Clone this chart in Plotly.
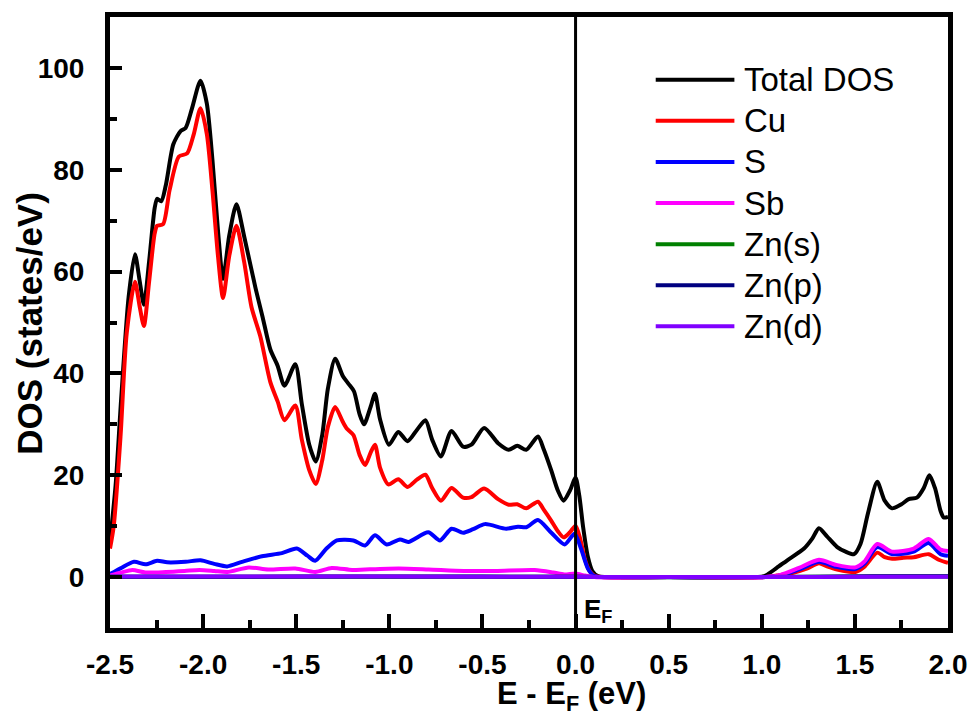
import plotly.graph_objects as go

# ---------------- data ----------------
total_e = [-2.5, -2.47, -2.44, -2.40, -2.366, -2.34, -2.318, -2.29, -2.26, -2.247, -2.225, -2.20, -2.16,
           -2.121, -2.094, -2.06, -2.014, -1.98, -1.95, -1.92, -1.893, -1.86, -1.821, -1.78, -1.72, -1.68,
           -1.639, -1.60, -1.563, -1.505, -1.47, -1.43, -1.395, -1.36, -1.33, -1.291, -1.25, -1.22, -1.19,
           -1.16, -1.136, -1.10, -1.077, -1.05, -1.002, -0.952, -0.902, -0.85, -0.806, -0.77, -0.723, -0.666,
           -0.604, -0.559, -0.491, -0.416, -0.359, -0.313, -0.265, -0.202, -0.17, -0.131, -0.095, -0.064,
           -0.03, 0.0, 0.02, 0.04, 0.066, 0.09, 0.12, 0.16, 0.5, 0.98, 1.02, 1.08, 1.137, 1.227, 1.27,
           1.307, 1.35, 1.405, 1.45, 1.495, 1.53, 1.57, 1.62, 1.66, 1.70, 1.75, 1.789, 1.833, 1.87, 1.90,
           1.93, 1.96, 1.977, 2.0]
total_dos = [7, 18, 35, 55, 63.4, 58, 53.5, 62, 72.5, 74.3, 73.8, 77, 85,
             87.6, 88.2, 92, 97.5, 93, 82, 68, 58.6, 67, 73.2, 67, 57, 51,
             44.7, 41.5, 37.6, 41.8, 34, 26, 22.7, 28, 37, 42.9, 39.5, 38, 36.5,
             32, 30, 33.5, 36, 31, 26, 28.5, 26.7, 29, 30.8, 27, 23.7, 28.7,
             25.6, 26, 29.3, 26.3, 25, 25.8, 25, 27.6, 25, 21, 17, 15,
             17, 19.5, 16, 10, 4, 1.2, 0.2, 0, 0, 0, 0.3, 1.8, 3.3, 5.6, 7.5,
             9.6, 8, 5.9, 5.0, 4.5, 6.5, 12.5, 18.7, 15, 13.5, 14.3, 15.3, 15.6, 17.5, 20,
             17.5, 13, 11.7, 11.8]

cu_e = [-2.5, -2.48, -2.443, -2.41, -2.366, -2.34, -2.318, -2.29, -2.26, -2.247, -2.215, -2.18, -2.13,
        -2.086, -2.05, -2.014, -1.98, -1.95, -1.92, -1.893, -1.86, -1.821, -1.78, -1.74, -1.693, -1.639,
        -1.60, -1.563, -1.505, -1.47, -1.43, -1.395, -1.36, -1.33, -1.291, -1.25, -1.229, -1.193, -1.16,
        -1.13, -1.10, -1.077, -1.05, -1.005, -0.952, -0.902, -0.85, -0.806, -0.77, -0.723, -0.666, -0.604,
        -0.559, -0.491, -0.416, -0.359, -0.313, -0.265, -0.202, -0.17, -0.131, -0.095, -0.064, -0.03, 0.0,
        0.025, 0.05, 0.075, 0.10, 0.14, 0.5, 1.02, 1.08, 1.155, 1.245, 1.307, 1.35, 1.405, 1.503, 1.55,
        1.62, 1.66, 1.70, 1.76, 1.816, 1.896, 1.95, 2.0]
cu_dos = [5.6, 10, 27.9, 48, 58, 53, 49.3, 58, 67.5, 69, 69.3, 76, 82.6,
          83.2, 87, 92.1, 87, 76, 63, 54.8, 63, 69, 62, 53, 47.3, 38.3,
          34.5, 30.8, 33.7, 27, 21, 18.3, 23, 29.5, 33.4, 30.5, 29.2, 27.9, 24,
          22, 24.5, 26, 21.5, 18.2, 19.2, 17.7, 19.2, 20.1, 17.5, 15, 17.5, 15.6,
          15.7, 17.4, 15.3, 14.2, 14.3, 13.5, 14.8, 13.2, 11.1, 9, 7.8, 8.8, 10.1,
          7.5, 3.5, 1.2, 0.3, 0, 0, 0, 0.3, 0.7, 1.7, 2.7, 2.1, 1.5, 1.0, 2.0,
          4.8, 3.9, 3.6, 3.8, 3.9, 4.5, 3.4, 2.8]

s_e = [-2.5, -2.44, -2.371, -2.309, -2.247, -2.193, -2.094, -2.014, -1.94, -1.871, -1.791, -1.684, -1.577,
       -1.497, -1.44, -1.398, -1.34, -1.282, -1.193, -1.13, -1.077, -1.014, -0.943, -0.898, -0.791, -0.728,
       -0.666, -0.604, -0.55, -0.487, -0.372, -0.309, -0.264, -0.202, -0.13, -0.059, -0.005, 0.03, 0.066,
       0.10, 0.13, 0.5, 1.02, 1.1, 1.2, 1.307, 1.40, 1.503, 1.55, 1.62, 1.70, 1.816, 1.896, 1.96, 2.0]
s_dos = [0.6, 1.8, 3.0, 2.5, 3.2, 2.9, 3.0, 3.3, 2.6, 2.1, 3.0, 4.1, 4.7,
         5.6, 4.2, 3.2, 5.5, 7.2, 7.2, 6.2, 8.2, 6.4, 7.4, 6.9, 8.8, 7.2,
         9.5, 8.7, 9.4, 10.4, 9.5, 9.9, 9.8, 11.2, 8.7, 6.4, 8.5, 5.5, 1.7,
         0.2, 0, 0, 0, 0.3, 1.5, 3.0, 2.0, 1.6, 2.6, 5.9, 4.5, 5.0, 6.7, 4.5, 4.2]

sb_e = [-2.5, -2.44, -2.38, -2.31, -2.2, -2.1, -2.02, -1.94, -1.87, -1.755, -1.65, -1.505, -1.398,
        -1.309, -1.2, -1.13, -0.95, -0.79, -0.6, -0.43, -0.22, -0.12, -0.06, 0.0, 0.05, 0.1, 0.5,
        1.02, 1.1, 1.2, 1.307, 1.40, 1.503, 1.55, 1.62, 1.70, 1.816, 1.896, 1.96, 2.0]
sb_dos = [0.3, 0.9, 1.4, 0.9, 1.0, 1.2, 1.4, 1.2, 1.0, 1.9, 1.5, 1.7, 1.0,
          1.8, 1.4, 1.5, 1.7, 1.5, 1.2, 1.2, 1.4, 0.9, 0.5, 0.7, 0.3, 0, 0,
          0, 0.4, 1.8, 3.4, 2.4, 1.9, 3.0, 6.5, 5.0, 5.6, 7.5, 5.4, 5.1]

zns_e = [-2.5, -1.5, -0.5, 0.0, 0.2, 1.0, 1.6, 2.0]
zns_dos = [0.05, 0.08, 0.06, 0.05, 0, 0, 0.1, 0.1]
znp_e = [-2.5, -1.5, -0.5, 0.0, 0.2, 1.0, 1.6, 2.0]
znp_dos = [0.05, 0.1, 0.1, 0.05, 0, 0, 0.15, 0.15]
znd_e = [-2.5, -1.5, -0.5, 0.0, 0.2, 1.0, 1.6, 2.0]
znd_dos = [0.1, 0.1, 0.08, 0.05, 0, 0, 0.05, 0.05]

series_names = ["Total DOS", "Cu", "S", "Sb", "Zn(s)", "Zn(p)", "Zn(d)"]
series_x = [total_e, cu_e, s_e, sb_e, zns_e, znp_e, znd_e]
series_y = [total_dos, cu_dos, s_dos, sb_dos, zns_dos, znp_dos, znd_dos]
series_colors = ["#000000", "#FF0000", "#0000FF", "#FF00FF", "#008000", "#000080", "#8000FF"]

x_tickvals = [-2.5, -2.0, -1.5, -1.0, -0.5, 0.0, 0.5, 1.0, 1.5, 2.0]
x_ticktext = ["-2.5", "-2.0", "-1.5", "-1.0", "-0.5", "0.0", "0.5", "1.0", "1.5", "2.0"]
y_tickvals = [0, 20, 40, 60, 80, 100]
y_ticktext = ["0", "20", "40", "60", "80", "100"]

# ---------------- figure ----------------
FONT = "Liberation Sans, Arial, sans-serif"
fig = go.Figure()
for name, xs, ys, col in zip(series_names, series_x, series_y, series_colors):
    fig.add_trace(go.Scatter(x=xs, y=ys, name=name, mode="lines",
                             line=dict(color=col, width=4, shape="spline", smoothing=0.7),
                             showlegend=False))

axis_common = dict(showline=True, linecolor="black", linewidth=5, mirror=True,
                   ticks="inside", tickcolor="black", tickwidth=4,
                   showgrid=False, zeroline=False,
                   tickfont=dict(family=FONT, size=28, color="black", weight="bold"))

fig.update_xaxes(range=[-2.5, 2.0], tickvals=x_tickvals, ticktext=x_ticktext, ticklen=14,
                 ticklabelstandoff=7,
                 minor=dict(ticks="inside", dtick=0.25, ticklen=8, tickwidth=4, tickcolor="black"),
                 **axis_common)
fig.update_yaxes(range=[-10, 110], tickvals=y_tickvals, ticktext=y_ticktext, ticklen=12,
                 ticklabelstandoff=15,
                 minor=dict(ticks="inside", tickvals=[-10, 10, 30, 50, 70, 90, 110], ticklen=7,
                            tickwidth=4, tickcolor="black"),
                 **axis_common)

# Fermi level line
fig.add_shape(type="line", xref="x", yref="paper", x0=0, x1=0, y0=0, y1=1,
              line=dict(color="black", width=3), layer="above")
fig.add_annotation(x=0, y=-6.5, xref="x", yref="y", text="E<sub>F</sub>", showarrow=False,
                   xanchor="left", yanchor="middle", xshift=6,
                   font=dict(family=FONT, size=26, color="black", weight="bold"))

# axis titles
fig.add_annotation(x=0.551, y=-0.112, xref="paper", yref="paper",
                   text="E - E<sub>F</sub> (eV)", showarrow=False, xanchor="center", yanchor="middle",
                   font=dict(family=FONT, size=31, color="black", weight="bold"))
fig.add_annotation(x=-0.0963, y=0.4985, xref="paper", yref="paper", textangle=-90,
                   text="DOS (states/eV)", showarrow=False, xanchor="center", yanchor="middle",
                   font=dict(family=FONT, size=35, color="black", weight="bold"))

# legend (drawn entries)
plot_l, plot_w, plot_b, plot_h = 110, 841.5, 628.5, 616.8
leg_x0, leg_x1, leg_tx, leg_y0, leg_step = 658, 737, 745, 75, 41.5
for i, (name, col) in enumerate(zip(series_names, series_colors)):
    ypx = leg_y0 + i * leg_step
    yp = (plot_b - ypx) / plot_h
    fig.add_shape(type="line", xref="paper", yref="paper",
                  x0=(leg_x0 - plot_l) / plot_w, x1=(leg_x1 - plot_l) / plot_w, y0=yp, y1=yp,
                  line=dict(color=col, width=4))
    fig.add_annotation(x=(leg_tx - plot_l) / plot_w, y=yp, xref="paper", yref="paper", text=name,
                       showarrow=False, xanchor="left", yanchor="middle",
                       font=dict(family=FONT, size=33, color="black"))

fig.update_layout(width=979, height=721, plot_bgcolor="white", paper_bgcolor="white",
                  margin=dict(l=110, r=27.5, t=12, b=92.5), showlegend=False)

fig.write_html("out.html")
